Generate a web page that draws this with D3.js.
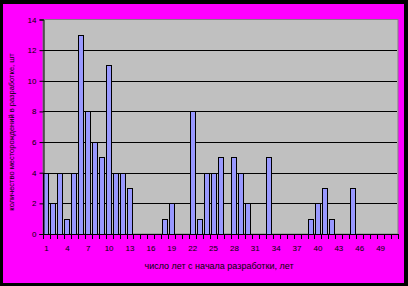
<!DOCTYPE html>
<html>
<head>
<meta charset="utf-8">
<script src="https://cdn.jsdelivr.net/npm/d3@7"></script>
<style>
  html, body { margin: 0; padding: 0; background: #000; }
  svg { display: block; }
  text { font-family: "Liberation Sans", Arial, sans-serif; fill: #000; }
</style>
</head>
<body>
<svg id="chart" width="408" height="286"></svg>
<script>
// years since start of development, 1..51
var years = d3.range(1, 52);
var counts = [4, 2, 4, 1, 4, 13, 8, 6, 5, 11, 4, 4, 3, 0, 0, 0, 0, 1, 2, 0,
              0, 8, 1, 4, 4, 5, 0, 5, 4, 2, 0, 0, 5, 0, 0, 0, 0, 0, 1, 2,
              3, 1, 0, 0, 3, 0, 0, 0, 0, 0, 0];
var xLabels = d3.range(1, 52, 3);
var yTicks = [0, 2, 4, 6, 8, 10, 12, 14];
var xTitle = 'число лет с начала разработки, лет';
var yTitle = 'количество месторождений в разработке, шт';

var svg = d3.select('#chart');

// magenta frame inside black border
svg.append('rect')
  .attr('x', 3).attr('y', 4)
  .attr('width', 401).attr('height', 279)
  .attr('fill', '#ff00ff');

var plot = { left: 43, top: 19.5, right: 398, bottom: 234 };

var x = d3.scaleBand()
  .domain(years)
  .range([plot.left, plot.right])
  .paddingInner(0.14)
  .paddingOuter(0.07);

var y = d3.scaleLinear()
  .domain([0, 14])
  .range([plot.bottom, plot.top]);

// plot background
svg.append('rect')
  .attr('x', plot.left).attr('y', plot.top)
  .attr('width', plot.right - plot.left)
  .attr('height', plot.bottom - plot.top)
  .attr('fill', '#c0c0c0')
  .attr('stroke', '#808080');

// grid
svg.append('g')
  .selectAll('line')
  .data(yTicks.filter(function(d) { return d > 0 && d < 14; }))
  .enter().append('line')
    .attr('x1', plot.left).attr('x2', plot.right - 1)
    .attr('y1', function(d) { return Math.round(y(d)) + 0.5; })
    .attr('y2', function(d) { return Math.round(y(d)) + 0.5; })
    .attr('stroke', '#000');

// bars
svg.append('g')
  .selectAll('rect')
  .data(counts)
  .enter().append('rect')
    .attr('x', function(d, i) { return Math.round(x(years[i])) + 0.5; })
    .attr('y', function(d) { return Math.round(y(d)) + 0.5; })
    .attr('width', Math.round(x.bandwidth()) - 1)
    .attr('height', function(d) { return Math.round(y(0)) - Math.round(y(d)); })
    .attr('fill', '#9999ff')
    .attr('stroke', '#000')
    .style('display', function(d) { return d > 0 ? null : 'none'; });

// y axis
var yAxis = d3.axisLeft(y)
  .tickValues(yTicks)
  .tickSize(4)
  .tickPadding(3);
var gy = svg.append('g')
  .attr('transform', 'translate(' + (plot.left + 0.5) + ',0)')
  .call(yAxis);
gy.select('.domain').attr('stroke', '#000');
gy.selectAll('.tick line').attr('stroke', '#000');
gy.selectAll('text').attr('font-size', 8).style('font-family', '"Liberation Sans", Arial, sans-serif');

// x axis: ticks on category boundaries, labels every third year
var edges = years.map(function(d) { return x(d) - x.step() * x.paddingInner() / 2; });
edges.push(plot.right);
var gx = svg.append('g');
gx.append('line')
  .attr('x1', plot.left).attr('x2', plot.right)
  .attr('y1', plot.bottom + 0.5).attr('y2', plot.bottom + 0.5)
  .attr('stroke', '#000');
gx.selectAll('line.tick')
  .data(edges)
  .enter().append('line')
    .attr('class', 'tick')
    .attr('x1', function(d) { return Math.round(d) + 0.5; })
    .attr('x2', function(d) { return Math.round(d) + 0.5; })
    .attr('y1', plot.bottom).attr('y2', plot.bottom + 5)
    .attr('stroke', '#000');
gx.selectAll('text')
  .data(xLabels)
  .enter().append('text')
    .attr('x', function(d) { return x(d) + x.bandwidth() / 2; })
    .attr('y', 251)
    .attr('text-anchor', 'middle')
    .attr('font-size', 8)
    .text(function(d) { return d; });

// titles
svg.append('text')
  .attr('x', 219).attr('y', 269)
  .attr('text-anchor', 'middle')
  .attr('font-size', 9)
  .text(xTitle);

svg.append('text')
  .attr('transform', 'translate(14,' + 132 + ') rotate(-90)')
  .attr('text-anchor', 'middle')
  .attr('font-size', 7.5)
  .text(yTitle);
</script>
</body>
</html>
